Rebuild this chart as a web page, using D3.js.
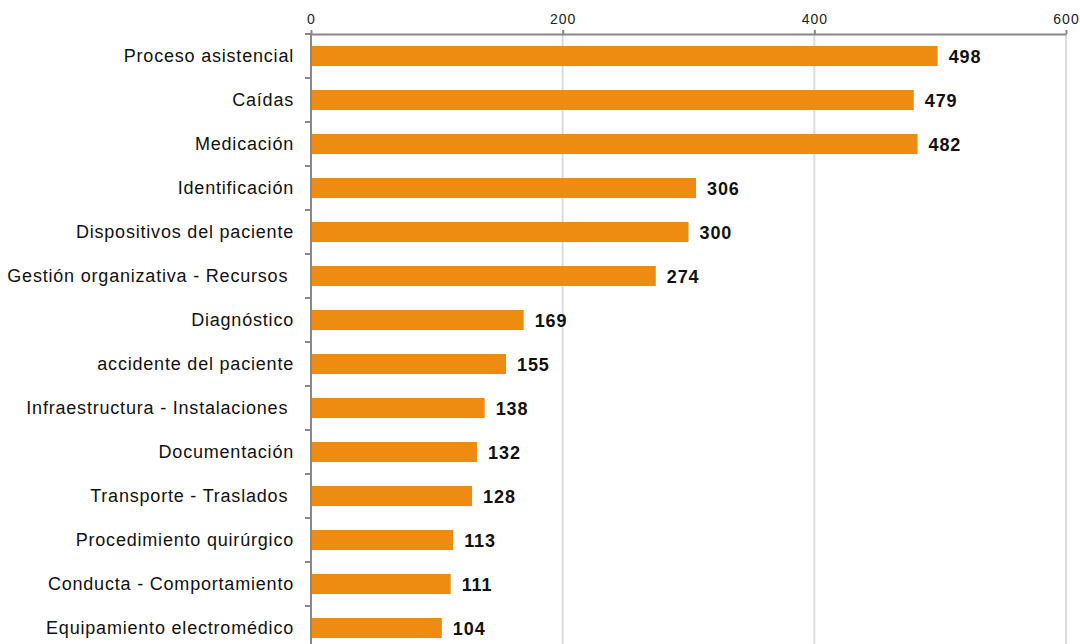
<!DOCTYPE html>
<html>
<head>
<meta charset="utf-8">
<script src="https://cdn.jsdelivr.net/npm/d3@7"></script>
<style>
  html, body { margin: 0; padding: 0; background: #fff; }
  svg { display: block; font-family: "Liberation Sans", Arial, sans-serif; }
</style>
</head>
<body>
<svg id="chart" width="1080" height="644"></svg>
<script>
// Incident categories (top to bottom) and number of notifications
const categories = [
  "Proceso asistencial",
  "Caídas",
  "Medicación",
  "Identificación",
  "Dispositivos del paciente",
  "Gestión organizativa - Recursos ",
  "Diagnóstico",
  "accidente del paciente",
  "Infraestructura - Instalaciones ",
  "Documentación",
  "Transporte - Traslados ",
  "Procedimiento quirúrgico",
  "Conducta - Comportamiento",
  "Equipamiento electromédico"
];
const counts = [498, 479, 482, 306, 300, 274, 169, 155, 138, 132, 128, 113, 111, 104];
const xTicks = [0, 200, 400, 600];

const svg = d3.select("#chart");
const mLeft = 311, mRight = 1066, mTop = 34, step = 44;
const mBottom = mTop + step * categories.length;

const x = d3.scaleLinear().domain([0, 600]).range([mLeft, mRight]);
const y = d3.scaleBand().domain(categories).range([mTop, mBottom]).paddingInner(0.545).paddingOuter(0.2725);

// vertical gridlines
svg.append("g")
  .selectAll("line")
  .data(xTicks.filter(d => d > 0))
  .join("line")
  .attr("x1", d => x(d)).attr("x2", d => x(d))
  .attr("y1", mTop).attr("y2", mBottom)
  .attr("stroke", "#dcdcdc").attr("stroke-width", 2);

// bars
svg.append("g")
  .selectAll("rect")
  .data(counts)
  .join("rect")
  .attr("x", x(0))
  .attr("y", (d, i) => y(categories[i]))
  .attr("width", d => x(d) - x(0))
  .attr("height", y.bandwidth())
  .attr("fill", "#ee8c12");

// value labels
svg.append("g")
  .selectAll("text")
  .data(counts)
  .join("text")
  .attr("x", d => x(d) + 11)
  .attr("y", (d, i) => y(categories[i]) + y.bandwidth() / 2 + 2)
  .attr("dominant-baseline", "middle")
  .attr("font-size", 18)
  .attr("font-weight", "bold")
  .attr("letter-spacing", 0.9)
  .attr("fill", "#111")
  .text(d => d);

// top axis
const xAxis = svg.append("g")
  .attr("transform", `translate(0,${mTop})`)
  .call(d3.axisTop(x).tickValues(xTicks).tickSize(4).tickSizeOuter(0).tickPadding(6));
xAxis.select(".domain").attr("stroke", "#888").attr("stroke-width", 2);
xAxis.selectAll(".tick line").attr("stroke", "#888").attr("stroke-width", 2);
xAxis.selectAll(".tick text").attr("font-size", 14).attr("fill", "#222")
  .attr("letter-spacing", 1)
  .attr("font-family", "'Liberation Sans', Arial, sans-serif");

// left axis line with band separators
const yAxisG = svg.append("g");
yAxisG.append("line")
  .attr("x1", mLeft).attr("x2", mLeft)
  .attr("y1", mTop).attr("y2", mBottom)
  .attr("stroke", "#888").attr("stroke-width", 2);
yAxisG.selectAll("line.sep")
  .data(d3.range(categories.length + 1))
  .join("line")
  .attr("class", "sep")
  .attr("x1", mLeft - 6).attr("x2", mLeft)
  .attr("y1", i => mTop + i * step).attr("y2", i => mTop + i * step)
  .attr("stroke", "#888").attr("stroke-width", 2);

// category labels
yAxisG.selectAll("text")
  .data(categories)
  .join("text")
  .attr("x", mLeft - 17)
  .attr("y", d => y(d) + y.bandwidth() / 2 + 1)
  .attr("text-anchor", "end")
  .attr("dominant-baseline", "middle")
  .attr("font-size", 18)
  .attr("letter-spacing", 0.8)
  .attr("fill", "#111")
  .style("white-space", "pre")
  .text(d => d);
</script>
</body>
</html>
